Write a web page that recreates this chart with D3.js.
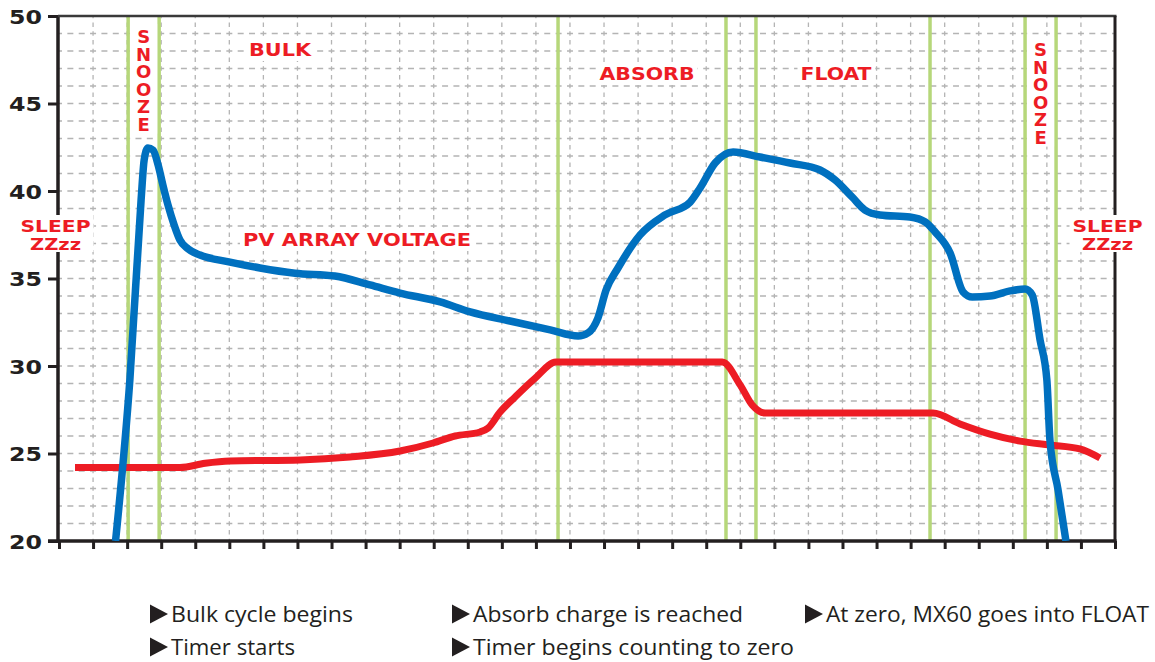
<!DOCTYPE html>
<html>
<head>
<meta charset="utf-8">
<script src="https://cdn.jsdelivr.net/npm/d3@7"></script>
<style>
  body { margin: 0; background: #fff; }
  svg { display: block; }
</style>
</head>
<body>
<svg id="chart" width="1155" height="662"></svg>
<script>
// ---- data -------------------------------------------------------------
// time runs in grid steps (0..31), voltage in volts
const xTickSteps = d3.range(0, 32);
const voltTicks = [20, 25, 30, 35, 40, 45, 50];

// stage change markers (green)
const stageMarks = [2.03, 2.94, 14.65, 19.58, 20.46, 25.57, 28.36, 29.27];

// PV array voltage (blue)
const pvTime = [1.66, 2.08, 2.41, 2.50, 2.61, 2.76, 2.91, 3.05, 3.20, 3.38, 3.55, 3.79,
  4.14, 5.02, 5.90, 6.93, 8.10, 9.13, 10.01, 11.19, 12.07, 13.24, 14.42, 15.24,
  15.53, 15.82, 16.06, 16.41, 17.06, 17.79, 18.53, 18.82, 19.26, 19.79, 20.58,
  21.46, 22.34, 22.78, 23.28, 23.66, 24.10, 24.98, 25.43, 25.72, 26.16, 26.54,
  26.81, 27.33, 27.92, 28.36, 28.57, 28.80, 29.00, 29.09, 29.33, 29.56];
const pvVolts = [20.0, 29.2, 39.49, 41.77, 42.46, 42.34, 41.49, 40.34, 39.2, 38.06, 37.2, 36.69,
  36.34, 35.94, 35.6, 35.3, 35.14, 34.63, 34.17, 33.66, 33.09, 32.57, 32.06, 31.71,
  31.89, 32.74, 34.34, 35.6, 37.49, 38.63, 39.37, 40.17, 41.6, 42.23, 41.94,
  41.6, 41.2, 40.63, 39.66, 38.91, 38.63, 38.51, 38.23, 37.66, 36.46, 34.23,
  33.94, 34.0, 34.29, 34.4, 34.06, 31.49, 29.2, 25.77, 22.9, 20.0];

// battery voltage (red)
const battTime = [0.47, 3.55, 4.29, 5.02, 7.08, 8.54, 10.01, 10.98, 11.63, 12.36, 12.6,
  12.95, 13.39, 13.98, 14.59, 19.47, 20.0, 20.35, 20.73, 25.66, 26.45, 27.33,
  28.21, 29.09, 29.97, 30.56];
const battVolts = [24.2, 24.2, 24.44, 24.57, 24.63, 24.8, 25.14, 25.6, 26.0, 26.23, 26.46,
  27.37, 28.23, 29.31, 30.23, 30.23, 28.91, 27.77, 27.31, 27.31, 26.69, 26.11,
  25.71, 25.49, 25.26, 24.74];

const stageNames = ["BULK", "ABSORB", "FLOAT", "PV ARRAY VOLTAGE"];
const sleepText = ["SLEEP", "ZZzz"];
const snoozeText = "SNOOZE";
const notesRow1 = ["Bulk cycle begins", "Absorb charge is reached", "At zero, MX60 goes into FLOAT"];
const notesRow2 = ["Timer starts", "Timer begins counting to zero"];

// ---- layout -----------------------------------------------------------
const svg = d3.select("#chart");
const plotL = 58, plotR = 1115, plotT = 16, plotB = 541;

const x = d3.scaleLinear().domain([0, 31]).range([59, plotR]);
const y = d3.scaleLinear().domain([20, 50]).range([plotB, plotT]);

const ink = "#231f20";
const red = "#ed1c24";
const blue = "#0070bf";
const green = "#b6d77a";
const gridCol = "#b4b4b4";

// ---- grid -------------------------------------------------------------
const grid = svg.append("g");
const cellW = x(1) - x(0);
const unitH = y(20) - y(21);
grid.selectAll("line.h")
  .data(d3.range(21, 50))
  .join("line")
  .attr("class", "h")
  .attr("x1", x(0)).attr("x2", plotR)
  .attr("y1", d => y(d)).attr("y2", d => y(d))
  .attr("stroke", gridCol).attr("stroke-width", 1.3)
  .attr("stroke-dasharray", `6 ${cellW / 3 - 6}`)
  .attr("stroke-dashoffset", 3);
grid.selectAll("line.v")
  .data(xTickSteps.slice(1, -1))
  .join("line")
  .attr("class", "v")
  .attr("x1", d => x(d)).attr("x2", d => x(d))
  .attr("y1", plotT).attr("y2", plotB)
  .attr("stroke", gridCol).attr("stroke-width", 1.3)
  .attr("stroke-dasharray", `4.5 ${unitH / 2 - 4.5}`)
  .attr("stroke-dashoffset", 2.25);

// ---- stage markers ----------------------------------------------------
svg.append("g").selectAll("line")
  .data(stageMarks)
  .join("line")
  .attr("x1", d => x(d)).attr("x2", d => x(d))
  .attr("y1", plotT).attr("y2", plotB)
  .attr("stroke", green).attr("stroke-width", 3.5);

// ---- axes -------------------------------------------------------------
const yAxis = d3.axisLeft(y).tickValues(voltTicks).tickSize(10).tickSizeOuter(0).tickPadding(6);
const yg = svg.append("g").attr("transform", `translate(${plotL},0)`).call(yAxis);
yg.select(".domain").remove();
yg.selectAll(".tick line").attr("stroke", ink).attr("stroke-width", 3);
yg.selectAll(".tick text")
  .attr("fill", ink)
  .attr("font-family", "DejaVu Sans, Verdana, sans-serif")
  .attr("font-weight", "bold")
  .attr("font-size", 20)
  .attr("textLength", 33)
  .attr("lengthAdjust", "spacingAndGlyphs")
  .attr("dy", "0.36em");

const xAxis = d3.axisBottom(x).tickValues(xTickSteps).tickSize(8).tickSizeOuter(0).tickFormat("");
const xg = svg.append("g").attr("transform", `translate(0,${plotB})`).call(xAxis);
xg.select(".domain").remove();
xg.selectAll(".tick line").attr("stroke", ink).attr("stroke-width", 3);

const frame = svg.append("g");
frame.append("line").attr("x1", plotL).attr("x2", plotL).attr("y1", plotT - 1).attr("y2", plotB)
  .attr("stroke", ink).attr("stroke-width", 3.5);
frame.append("line").attr("x1", 48).attr("x2", plotR + 1.5).attr("y1", plotB).attr("y2", plotB)
  .attr("stroke", ink).attr("stroke-width", 3.5);
frame.append("line").attr("x1", plotL).attr("x2", plotR + 1.5).attr("y1", plotT).attr("y2", plotT)
  .attr("stroke", "#3a3a3a").attr("stroke-width", 2.5);
frame.append("line").attr("x1", plotR).attr("x2", plotR).attr("y1", plotT).attr("y2", plotB)
  .attr("stroke", ink).attr("stroke-width", 3);

// ---- labels with white backing ---------------------------------------
const labels = svg.append("g")
  .attr("font-family", "DejaVu Sans, Verdana, sans-serif")
  .attr("font-weight", "bold")
  .attr("fill", red);

function backedText(g, str, cx, baseline, size, width, pad) {
  const t = g.append("text")
    .attr("x", cx).attr("y", baseline)
    .attr("text-anchor", "middle")
    .attr("font-size", size)
    .attr("textLength", width)
    .attr("lengthAdjust", "spacingAndGlyphs")
    .text(str);
  const b = t.node().getBBox();
  g.insert("rect", "text")
    .attr("x", b.x - pad).attr("y", b.y - 1)
    .attr("width", b.width + 2 * pad).attr("height", b.height + 2)
    .attr("fill", "#fff");
  return t;
}

// phase titles
backedText(labels.append("g"), stageNames[0], 280, 56, 18, 62, 3);
backedText(labels.append("g"), stageNames[1], 647, 80, 18, 95, 3);
backedText(labels.append("g"), stageNames[2], 836, 80, 18, 71, 3);
backedText(labels.append("g"), stageNames[3], 357, 246, 18, 228, 3);

// sleep notes on both sides
function sleepLabel(cx) {
  const g = labels.append("g");
  g.append("rect").attr("x", cx - 38).attr("y", 215).attr("width", 76).attr("height", 37).attr("fill", "#fff");
  g.append("text").attr("x", cx).attr("y", 232).attr("text-anchor", "middle")
    .attr("font-size", 15).attr("textLength", 70).attr("lengthAdjust", "spacingAndGlyphs")
    .text(sleepText[0]);
  g.append("text").attr("x", cx).attr("y", 250).attr("text-anchor", "middle")
    .attr("font-size", 15).attr("textLength", 51).attr("lengthAdjust", "spacingAndGlyphs")
    .text(sleepText[1]);
}
sleepLabel(55.5);
sleepLabel(1107.5);

// vertical SNOOZE between marker pairs, stacked upright letters
function snooze(i0, i1, topY) {
  const g = labels.append("g");
  const xa = x(stageMarks[i0]) + 2, xb = x(stageMarks[i1]) - 2;
  const t = g.append("text")
    .attr("x", (xa + xb) / 2)
    .attr("y", topY)
    .attr("font-size", 18)
    .style("writing-mode", "vertical-rl")
    .style("text-orientation", "upright")
    .style("letter-spacing", "-3.4px")
    .text(snoozeText);
  const b = t.node().getBBox();
  g.insert("rect", "text")
    .attr("x", xa).attr("y", b.y - 2)
    .attr("width", xb - xa).attr("height", b.height + 4)
    .attr("fill", "#fff");
}
snooze(0, 1, 26);
snooze(6, 7, 39);

// ---- voltage traces ---------------------------------------------------
svg.append("clipPath").attr("id", "plot-clip")
  .append("rect").attr("x", plotL).attr("y", plotT).attr("width", plotR - plotL).attr("height", plotB - plotT);

const traceLine = d3.line()
  .x(d => x(d[0]))
  .y(d => y(d[1]))
  .curve(d3.curveMonotoneX);

const traces = svg.append("g").attr("clip-path", "url(#plot-clip)");
traces.append("path")
  .datum(d3.zip(battTime, battVolts))
  .attr("d", traceLine)
  .attr("fill", "none").attr("stroke", red).attr("stroke-width", 7)
  .attr("stroke-linejoin", "round");
traces.append("path")
  .datum(d3.zip(pvTime, pvVolts))
  .attr("d", traceLine)
  .attr("fill", "none").attr("stroke", blue).attr("stroke-width", 7.5)
  .attr("stroke-linejoin", "round");

// ---- notes under the chart -------------------------------------------
const notes = svg.append("g")
  .attr("font-family", "Open Sans, Noto Sans, sans-serif")
  .attr("font-size", 22)
  .attr("fill", ink);

function note(str, tx, baseline, width) {
  const ty = baseline - 8;
  notes.append("path")
    .attr("d", `M${tx},${ty - 9.5}L${tx + 18},${ty}L${tx},${ty + 9.5}Z`)
    .attr("fill", ink);
  notes.append("text")
    .attr("x", tx + 21).attr("y", baseline)
    .attr("textLength", width).attr("lengthAdjust", "spacingAndGlyphs")
    .text(str);
}
note(notesRow1[0], 150, 622, 182);
note(notesRow1[1], 452, 622, 270);
note(notesRow1[2], 805, 622, 323);
note(notesRow2[0], 150, 655, 124);
note(notesRow2[1], 452, 655, 321);
</script>
</body>
</html>
